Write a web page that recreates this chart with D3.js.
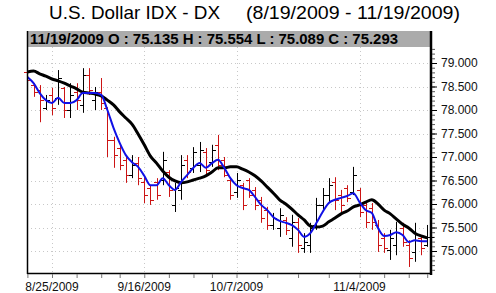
<!DOCTYPE html>
<html>
<head>
<meta charset="utf-8">
<script src="https://cdn.jsdelivr.net/npm/d3@7"></script>
<style>
  html, body { margin: 0; padding: 0; background: #fff; }
  svg { display: block; font-family: Arial, "Liberation Sans", sans-serif; }
</style>
</head>
<body>
<div id="app"></div>
<script>
const dates = [
  '8/19/2009','8/20/2009','8/21/2009','8/24/2009','8/25/2009','8/26/2009','8/27/2009','8/28/2009','8/31/2009',
  '9/1/2009','9/2/2009','9/3/2009','9/4/2009','9/8/2009','9/9/2009','9/10/2009','9/11/2009','9/14/2009','9/15/2009',
  '9/16/2009','9/17/2009','9/18/2009','9/21/2009','9/22/2009','9/23/2009','9/24/2009','9/25/2009','9/28/2009','9/29/2009','9/30/2009',
  '10/1/2009','10/2/2009','10/5/2009','10/6/2009','10/7/2009','10/8/2009','10/9/2009','10/12/2009','10/13/2009','10/14/2009',
  '10/15/2009','10/16/2009','10/19/2009','10/20/2009','10/21/2009','10/22/2009','10/23/2009','10/26/2009','10/27/2009',
  '10/28/2009','10/29/2009','10/30/2009',
  '11/2/2009','11/3/2009','11/4/2009','11/5/2009','11/6/2009','11/9/2009','11/10/2009','11/11/2009','11/12/2009',
  '11/13/2009','11/16/2009','11/17/2009','11/18/2009','11/19/2009'
]

const opens = [78.81,78.53,78.43,78.04,78.32,78.26,78.47,78.00,78.38,78.11,78.74,78.21,78.38,78.04,77.36,77.19,76.94,76.62,76.87,
  76.47,76.34,76.47,76.51,76.68,75.98,76.30,76.94,76.77,76.83,77.11,76.89,77.26,76.94,76.51,76.26,76.40,76.51,76.30,76.09,75.87,
  75.55,75.49,75.66,75.28,75.62,75.06,75.13,75.55,75.98,76.19,76.47,76.19,76.34,76.26,76.30,75.98,75.91,75.55,75.28,75.02,75.13,
  75.49,75.13,74.98,75.28,75.135]
const highs = [78.85,78.57,78.53,78.32,78.47,78.85,78.49,78.57,78.57,78.89,78.89,78.49,78.68,78.06,77.43,77.26,77.04,77.04,77.00,
  76.57,76.40,76.55,77.11,76.72,76.45,77.04,77.04,77.21,77.32,77.19,77.26,77.47,77.00,76.57,76.66,76.45,76.55,76.36,76.15,75.94,
  75.81,75.91,75.72,75.77,75.70,75.38,75.60,76.13,76.34,76.55,76.57,76.30,76.40,76.79,76.34,76.04,76.02,75.66,75.38,75.45,75.62,
  75.60,75.23,75.60,75.34,75.554]
const lows = [78.53,78.28,77.74,78.00,77.89,78.11,77.83,77.83,78.00,77.94,78.32,78.00,78.00,77.00,76.77,76.72,76.45,76.55,76.40,
  76.02,75.98,76.09,76.40,76.15,75.83,76.09,76.55,76.66,76.68,76.62,76.79,76.72,76.57,76.09,76.13,75.87,76.13,75.87,75.60,75.45,
  75.45,75.30,75.34,75.09,74.96,74.96,74.96,75.45,75.87,76.02,75.87,75.83,76.04,76.19,75.72,75.49,75.45,74.98,74.96,74.81,74.91,
  75.09,74.66,74.77,74.91,75.089]
const closes = [78.64,78.38,78.21,78.21,78.04,78.68,78.00,78.32,78.21,78.74,78.43,78.38,78.15,77.36,77.04,76.83,76.62,76.83,76.55,
  76.19,76.09,76.19,76.94,76.30,76.34,76.83,76.68,77.11,77.15,76.72,77.15,76.83,76.62,76.19,76.51,75.98,76.19,75.98,75.70,75.55,
  75.70,75.77,75.45,75.62,75.13,75.19,75.49,75.98,76.19,76.40,76.09,75.98,76.13,76.62,75.83,75.62,75.62,75.13,75.06,75.28,75.40,
  75.19,74.85,75.23,75.06,75.293]

// moving averages
const maFast = [78.70,78.57,78.36,78.21,78.15,78.26,78.15,78.15,78.21,78.36,78.36,78.36,78.32,78.00,77.62,77.30,77.04,76.89,76.79,
  76.60,76.40,76.40,76.55,76.40,76.30,76.47,76.62,76.77,76.87,76.77,76.87,76.94,76.77,76.55,76.40,76.34,76.30,76.15,75.98,75.87,
  75.72,75.64,75.60,75.55,75.45,75.30,75.38,75.60,75.83,76.02,76.09,76.13,76.17,76.23,76.04,75.87,75.81,75.49,75.32,75.34,75.40,
  75.34,75.19,75.23,75.21,75.21]
const maSlow = [78.81,78.83,78.77,78.72,78.66,78.62,78.57,78.51,78.45,78.38,78.36,78.34,78.30,78.21,78.11,77.96,77.83,77.70,77.49,
  77.26,77.02,76.87,76.70,76.57,76.49,76.45,76.47,76.51,76.55,76.60,76.68,76.77,76.77,76.79,76.79,76.74,76.68,76.60,76.49,76.36,
  76.23,76.09,76.00,75.89,75.77,75.66,75.53,75.51,75.53,75.62,75.70,75.79,75.85,75.94,75.98,76.04,76.09,76.00,75.87,75.79,75.68,
  75.57,75.49,75.38,75.32,75.28]

const yTickValues = [75, 75.5, 76, 76.5, 77, 77.5, 78, 78.5, 79]
const xTickDates = ['8/19/2009','8/25/2009','8/31/2009','9/4/2009','9/10/2009','9/16/2009','9/22/2009','9/28/2009','10/1/2009',
  '10/7/2009','10/14/2009','10/21/2009','10/28/2009','11/4/2009','11/10/2009','11/16/2009','11/19/2009']
const xLabelDates = ['8/25/2009','9/16/2009','10/7/2009','11/4/2009']

const width = 496
const height = 293
const pLeft = 27, pRight = 430, pTop = 31, pBottom = 273

const bars = dates.map((d, i) => ({date: d, o: opens[i], h: highs[i], l: lows[i], c: closes[i]}))
const last = bars[bars.length - 1]

const x = d3.scalePoint().domain(dates).range([27.4, 427.2])
const y = d3.scaleLinear().domain([75, 79]).range([251, 63])

const svg = d3.select('#app')
  .append('svg')
  .attr('width', width)
  .attr('height', height)

// title
svg.append('text')
  .attr('x', 49).attr('y', 19)
  .attr('font-size', 19)
  .attr('textLength', 171).attr('lengthAdjust', 'spacingAndGlyphs')
  .text('U.S. Dollar IDX - DX')
svg.append('text')
  .attr('x', 246).attr('y', 19)
  .attr('font-size', 19)
  .attr('textLength', 214).attr('lengthAdjust', 'spacingAndGlyphs')
  .text('(8/19/2009 - 11/19/2009)')

// grid
const grid = svg.append('g').attr('stroke', '#c8c8c8').attr('stroke-dasharray', '1,3')
grid.selectAll('line.h')
  .data(yTickValues)
  .join('line')
  .attr('class', 'h')
  .attr('x1', pLeft).attr('x2', pRight)
  .attr('y1', d => Math.round(y(d)) + 0.5).attr('y2', d => Math.round(y(d)) + 0.5)
grid.selectAll('line.v')
  .data(xLabelDates)
  .join('line')
  .attr('class', 'v')
  .attr('x1', d => Math.round(x(d)) + 0.5).attr('x2', d => Math.round(x(d)) + 0.5)
  .attr('y1', pTop).attr('y2', pBottom)

// header bar
svg.append('rect')
  .attr('x', pLeft).attr('y', pTop)
  .attr('width', pRight - pLeft + 2).attr('height', 16)
  .attr('fill', '#ababab')
svg.append('text')
  .attr('x', 30).attr('y', 44)
  .attr('font-size', 14).attr('font-weight', 'bold')
  .attr('textLength', 368).attr('lengthAdjust', 'spacingAndGlyphs')
  .text(`${last.date} O : ${last.o.toFixed(3)} H : ${last.h.toFixed(3)} L : ${last.l.toFixed(3)} C : ${last.c.toFixed(3)}`)

const plot = svg.append('g')
svg.append('clipPath').attr('id', 'clip')
  .append('rect').attr('x', pLeft).attr('y', pTop + 16).attr('width', pRight - pLeft).attr('height', pBottom - pTop - 16)

// ohlc bars
const bar = plot.selectAll('g.bar')
  .data(bars)
  .join('g')
  .attr('class', 'bar')
  .attr('stroke', d => d.c < d.o ? '#cc1414' : '#000')
  .attr('stroke-width', 1)
bar.append('line')
  .attr('x1', d => Math.round(x(d.date)) + 0.5).attr('x2', d => Math.round(x(d.date)) + 0.5)
  .attr('y1', d => y(d.h)).attr('y2', d => y(d.l))
bar.append('line')
  .attr('x1', d => Math.round(x(d.date)) - 3).attr('x2', d => Math.round(x(d.date)) + 0.5)
  .attr('y1', d => Math.round(y(d.o)) + 0.5).attr('y2', d => Math.round(y(d.o)) + 0.5)
bar.append('line')
  .attr('x1', d => Math.round(x(d.date)) + 0.5).attr('x2', d => Math.round(x(d.date)) + 4)
  .attr('y1', d => Math.round(y(d.c)) + 0.5).attr('y2', d => Math.round(y(d.c)) + 0.5)

// moving averages
const line = d3.line()
  .x((d, i) => x(dates[i]))
  .y(d => y(d))
  .curve(d3.curveMonotoneX)
plot.append('path')
  .datum(maSlow)
  .attr('clip-path', 'url(#clip)')
  .attr('d', line)
  .attr('fill', 'none')
  .attr('stroke', '#000')
  .attr('stroke-width', 3)
plot.append('path')
  .datum(maFast)
  .attr('clip-path', 'url(#clip)')
  .attr('d', line)
  .attr('fill', 'none')
  .attr('stroke', '#1010e6')
  .attr('stroke-width', 2)

// frame
svg.append('line').attr('x1', pLeft + 0.5).attr('x2', pLeft + 0.5).attr('y1', pTop).attr('y2', pBottom + 1)
  .attr('stroke', '#000').attr('stroke-width', 1.5)
svg.append('line').attr('x1', pLeft).attr('x2', pRight + 2).attr('y1', pBottom + 0.5).attr('y2', pBottom + 0.5)
  .attr('stroke', '#000').attr('stroke-width', 1.5)
svg.append('line').attr('x1', pRight + 1).attr('x2', pRight + 1).attr('y1', pTop).attr('y2', pBottom + 2)
  .attr('stroke', '#000').attr('stroke-width', 2.5)

// right axis
const yAxis = d3.axisRight(y)
  .tickValues(d3.range(74.6, 79.35, 0.1))
  .tickSize(3)
  .tickFormat('')
svg.append('g')
  .attr('transform', `translate(${pRight + 2},0)`)
  .call(yAxis)
  .call(g => g.select('.domain').remove())
  .call(g => g.selectAll('line').attr('stroke', '#555'))
svg.append('g')
  .attr('transform', `translate(${pRight + 2},0)`)
  .call(d3.axisRight(y).tickValues(yTickValues).tickSize(5).tickPadding(4).tickFormat(d3.format('.3f')))
  .call(g => g.select('.domain').remove())
  .call(g => g.selectAll('text').attr('font-size', 12).attr('font-family', 'Arial, "Liberation Sans", sans-serif').attr('fill', '#111'))

// last close marker
svg.append('line')
  .attr('x1', pRight - 3).attr('x2', pRight + 4)
  .attr('y1', Math.round(y(last.c)) + 0.5).attr('y2', Math.round(y(last.c)) + 0.5)
  .attr('stroke', '#000')

// bottom axis
svg.append('g')
  .attr('transform', `translate(0,${pBottom + 1})`)
  .call(d3.axisBottom(x).tickValues(xTickDates).tickSize(4).tickFormat(''))
  .call(g => g.select('.domain').remove())
  .call(g => g.selectAll('line').attr('stroke', '#777'))
svg.append('g').selectAll('text')
  .data(xLabelDates)
  .join('text')
  .attr('x', d => x(d))
  .attr('y', 291)
  .attr('text-anchor', 'middle')
  .attr('font-size', 12)
  .attr('fill', '#111')
  .text(d => d)
</script>
</body>
</html>
